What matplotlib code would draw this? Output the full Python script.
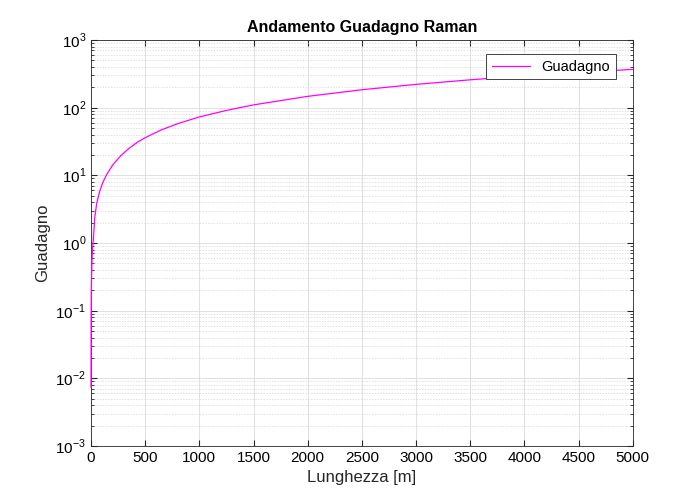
import matplotlib
matplotlib.use('Agg')
import matplotlib.pyplot as plt
from matplotlib.ticker import NullFormatter

plt.rcParams['font.family'] = ['Liberation Sans', 'DejaVu Sans']
plt.rcParams['mathtext.fontset'] = 'custom'
plt.rcParams['mathtext.rm'] = 'Liberation Sans'

# dati
lunghezza = [0.1, 1, 3, 8, 14, 21, 35, 52, 80, 110, 145, 200, 275, 350, 430, 500,
             650, 800, 1000, 1250, 1500, 2000, 2500, 3000, 3500, 4000, 4500, 5000]
guadagno = [0.0074, 0.07, 0.2, 0.5, 0.8, 1.1, 2.4, 3.8, 5.8, 7.9, 10.3, 14.2, 19.5,
            25, 31, 36, 47, 58, 73, 91, 110, 147, 184, 221, 258, 295, 332, 368]

x_ticks = list(range(0, 5001, 500))
esponenti = [-3, -2, -1, 0, 1, 2, 3]

fig = plt.figure(figsize=(7, 5), dpi=100)
ax = fig.add_axes([0.13, 0.108, 0.774, 0.812])

ax.semilogy(lunghezza, guadagno, color='#ff00ff', linewidth=0.9, label='Guadagno',
            zorder=3, clip_on=False)

ax.set_xlim(0, 5000)
ax.set_ylim(1e-3, 1e3)
ax.set_xticks(x_ticks)
ax.set_yticks([10.0 ** e for e in esponenti],
              [r'$10^{%d}$' % e for e in esponenti])
ax.set_yticks([m * 10.0 ** e for e in esponenti[:-1] for m in range(2, 10)], minor=True)
ax.yaxis.set_minor_formatter(NullFormatter())

ax.grid(True, which='major', color='#dcdcdc', linewidth=0.6)
ax.grid(True, which='minor', axis='y', color='#d4d4d4', linestyle=(0, (2, 2)),
        linewidth=0.5)
ax.set_axisbelow(True)

ax.tick_params(which='both', direction='in', top=True, right=True, labelsize=11, color='#262626')
ax.tick_params(which='major', length=4)
ax.tick_params(which='minor', length=2)
for s in ax.spines.values():
    s.set_color('#262626')
    s.set_linewidth(0.6)

ax.set_title('Andamento Guadagno Raman', fontsize=11.5, fontweight='bold')
ax.set_xlabel('Lunghezza [m]', fontsize=12, color='#262626')
ax.set_ylabel('Guadagno', fontsize=12, color='#262626')

leg = ax.legend(loc='upper right', bbox_to_anchor=(0.969, 0.966), borderaxespad=0,
                fancybox=False, framealpha=1, edgecolor='#262626', fontsize=10.5,
                handlelength=2.6)
leg.get_frame().set_linewidth(0.6)

fig.savefig('out.png', dpi=100)
